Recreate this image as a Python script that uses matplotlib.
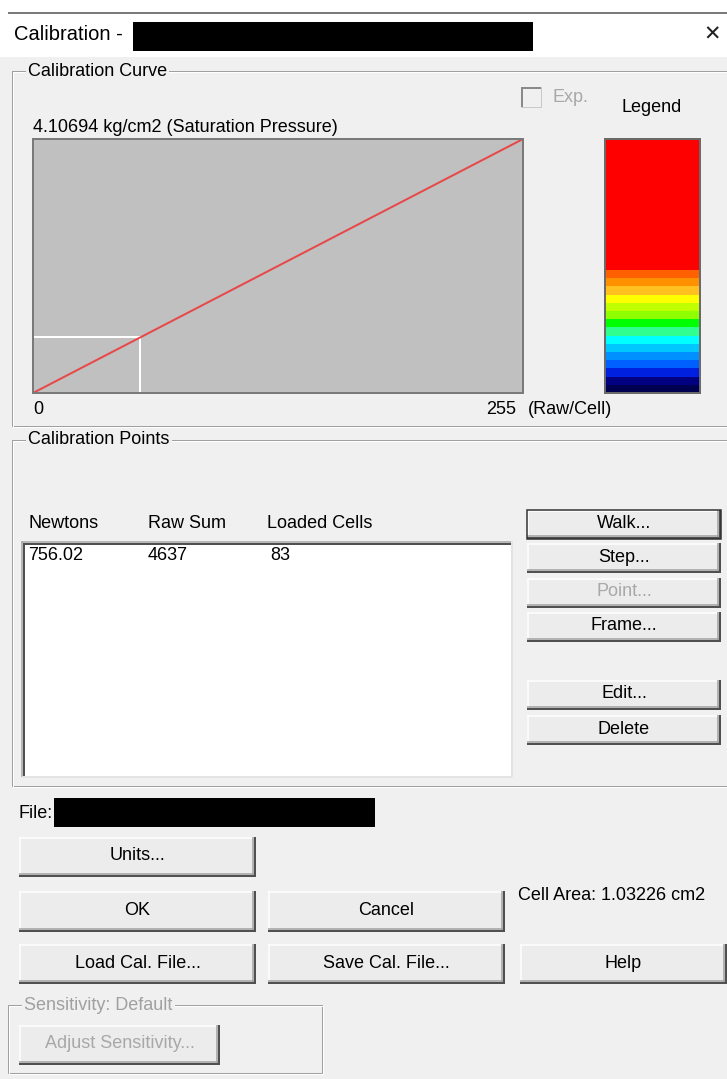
"""Calibration dialog: curve, legend colour bar and calibration points."""

import matplotlib

matplotlib.use("Agg")
import matplotlib.pyplot as plt
import numpy as np
from matplotlib.colors import ListedColormap
from matplotlib.patches import Rectangle

plt.rcParams["font.family"] = ["Liberation Sans", "DejaVu Sans"]

# data
newtons = [756.02]
raw_sum = [4637]
loaded_cells = [83]
CELL_AREA = 1.03226          # cm2
SAT_PRESSURE = 4.10694       # kg/cm2
RAW_MAX = 255
KGF = 9.80665

# legend bands, bottom to top
legend_colors = [
    "#000050", "#000080", "#0020e0", "#0060ff", "#0090ff", "#00c8ff",
    "#00ffff", "#30ff90", "#00ff00", "#90ff00", "#c0ff00", "#ffff00",
    "#ffc020", "#ff9000", "#ff6000",
] + ["#ff0000"] * 16

BG = "#f0f0f0"
PX = 0.72  # one pixel in points at dpi 100
FS = 13


def hline(ax, x0, x1, y, color, w=1.0, z=3):
    ax.plot([x0, x1], [y, y], color=color, lw=w * PX, zorder=z, solid_capstyle="butt")


def vline(ax, x, y0, y1, color, w=1.0, z=3):
    ax.plot([x, x], [y0, y1], color=color, lw=w * PX, zorder=z, solid_capstyle="butt")


def group_box(ax, x0, y0, x1, y1, label, enabled=True):
    for off, col in ((0, "#a0a0a0"), (1, "#ffffff")):
        ax.add_patch(Rectangle((x0 + off, y0 + off), x1 - x0, y1 - y0, fill=False,
                               ec=col, lw=PX, zorder=2))
    ax.text(x0 + 16, y0, label, fontsize=FS, va="center", ha="left",
            color="#000000" if enabled else "#a0a0a0", zorder=4,
            bbox=dict(fc=BG, ec="none", pad=1.5))


def button(ax, x0, y0, x1, y1, label, enabled=True, default=False):
    ax.add_patch(Rectangle((x0, y0), x1 - x0, y1 - y0, fc="#ececec", ec="none", zorder=3))
    hline(ax, x0, x1, y0 + 1, "#ffffff", 1.5, 4)
    vline(ax, x0 + 1, y0, y1, "#ffffff", 1.5, 4)
    hline(ax, x0, x1, y1 - 3, "#a0a0a0", 1.5, 4)
    vline(ax, x1 - 3, y0, y1, "#a0a0a0", 1.5, 4)
    hline(ax, x0, x1, y1 - 1, "#505050", 2, 4)
    vline(ax, x1 - 1, y0, y1, "#505050", 2, 4)
    if default:
        ax.add_patch(Rectangle((x0, y0), x1 - x0, y1 - y0, fill=False, ec="#303030",
                               lw=1.5 * PX, zorder=5))
    ax.text((x0 + x1) / 2, (y0 + y1) / 2 - 1, label, fontsize=FS, ha="center", va="center",
            color="#000000" if enabled else "#a8a8a8", zorder=6)


def main() -> None:
    fig = plt.figure(figsize=(7.27, 10.79), dpi=100)
    fig.patch.set_facecolor(BG)
    ax = fig.add_axes([0, 0, 1, 1])
    ax.set_xlim(0, 727)
    ax.set_ylim(1079, 0)
    ax.axis("off")

    # title bar
    ax.add_patch(Rectangle((0, 0), 727, 57, fc="#ffffff", ec="none", zorder=1))
    hline(ax, 8, 727, 13, "#505050", 1.5)
    ax.text(14, 35, "Calibration -", fontsize=14.5, va="center", ha="left")
    ax.add_patch(Rectangle((133, 22), 400, 29, fc="#000000", ec="none", zorder=3))
    ax.text(712, 35, "\u2715", fontsize=15, va="center", ha="center", color="#222222",
            family="DejaVu Sans")

    # calibration curve group
    group_box(ax, 12, 71, 760, 426, "Calibration Curve")
    ax.add_patch(Rectangle((521, 87), 20, 20, fc=BG, ec="#c8c8c8", lw=PX, zorder=3))
    hline(ax, 521, 541, 88, "#8a8a8a", 2, 4)
    vline(ax, 522, 87, 107, "#8a8a8a", 2, 4)
    ax.text(553, 98, "Exp.", fontsize=FS, va="center", ha="left", color="#a8a8a8")
    ax.text(652, 107, "Legend", fontsize=FS, va="center", ha="center")
    ax.text(33, 128, "4.10694 kg/cm2 (Saturation Pressure)", fontsize=FS, va="center")
    ax.text(33, 410, "0", fontsize=FS, va="center", ha="left")
    ax.text(516, 410, "255", fontsize=FS, va="center", ha="right")
    ax.text(528, 410, "(Raw/Cell)", fontsize=FS, va="center", ha="left")

    # curve plot
    cax = fig.add_axes([33 / 727, 1 - 393 / 1079, 490 / 727, 254 / 1079])
    cax.set_facecolor("#c0c0c0")
    cax.set_xlim(0, RAW_MAX)
    cax.set_ylim(0, SAT_PRESSURE)
    cax.set_xticks([])
    cax.set_yticks([])
    for sp in cax.spines.values():
        sp.set_color("#7a7a7a")
        sp.set_linewidth(2 * PX)
    pt_x = raw_sum[0] / loaded_cells[0]
    pt_y = newtons[0] / (loaded_cells[0] * CELL_AREA) / KGF
    cax.plot([0, pt_x], [pt_y, pt_y], color="#ffffff", lw=2 * PX)
    cax.plot([pt_x, pt_x], [0, pt_y], color="#ffffff", lw=2 * PX)
    cax.plot([0, RAW_MAX], [0, SAT_PRESSURE], color="#e84848", lw=2 * PX)

    # legend bar
    lax = fig.add_axes([605 / 727, 1 - 393 / 1079, 95 / 727, 254 / 1079])
    lax.imshow(np.arange(len(legend_colors)).reshape(-1, 1), origin="lower", aspect="auto",
               cmap=ListedColormap(legend_colors), interpolation="nearest")
    lax.set_xticks([])
    lax.set_yticks([])
    for sp in lax.spines.values():
        sp.set_color("#6a6a6a")
        sp.set_linewidth(2 * PX)

    # calibration points group
    group_box(ax, 12, 440, 760, 786, "Calibration Points")
    for x, head in zip([28, 148, 267], ["Newtons", "Raw Sum", "Loaded Cells"]):
        ax.text(x, 523, head, fontsize=FS, va="center", ha="left")
    ax.add_patch(Rectangle((22, 541), 490, 236, fc="#ffffff", ec="none", zorder=2))
    hline(ax, 22, 512, 542, "#a0a0a0", 1.5)
    vline(ax, 22, 541, 777, "#a0a0a0", 1.5)
    hline(ax, 24, 512, 544, "#505050", 2)
    vline(ax, 24, 543, 777, "#505050", 2)
    hline(ax, 22, 512, 777, "#e3e3e3", 2)
    vline(ax, 512, 541, 777, "#e3e3e3", 2)
    for i in range(len(newtons)):
        y = 556 + 22 * i
        ax.text(28, y, f"{newtons[i]:.2f}", fontsize=FS, va="center")
        ax.text(148, y, f"{raw_sum[i]}", fontsize=FS, va="center")
        ax.text(270, y, f"{loaded_cells[i]}", fontsize=FS, va="center")

    button(ax, 527, 510, 721, 539, "Walk...", default=True)
    button(ax, 527, 543, 721, 573, "Step...")
    button(ax, 527, 578, 721, 608, "Point...", enabled=False)
    button(ax, 527, 612, 721, 642, "Frame...")
    button(ax, 527, 680, 721, 710, "Edit...")
    button(ax, 527, 715, 721, 745, "Delete")

    # bottom area
    ax.text(18, 813, "File:", fontsize=FS, va="center", ha="left")
    ax.add_patch(Rectangle((54, 798), 321, 29, fc="#000000", ec="none", zorder=3))
    button(ax, 19, 837, 256, 877, "Units...")
    button(ax, 19, 891, 256, 932, "OK")
    button(ax, 268, 891, 505, 932, "Cancel")
    ax.text(518, 895, f"Cell Area: {CELL_AREA} cm2", fontsize=FS, va="center", ha="left")
    button(ax, 19, 944, 256, 984, "Load Cal. File...")
    button(ax, 268, 944, 505, 984, "Save Cal. File...")
    button(ax, 520, 944, 727, 984, "Help")

    group_box(ax, 8, 1005, 322, 1073, "Sensitivity: Default", enabled=False)
    button(ax, 19, 1025, 220, 1065, "Adjust Sensitivity...", enabled=False)

    fig.savefig("out.png", dpi=100, facecolor=BG)
    plt.close(fig)


if __name__ == "__main__":
    main()
